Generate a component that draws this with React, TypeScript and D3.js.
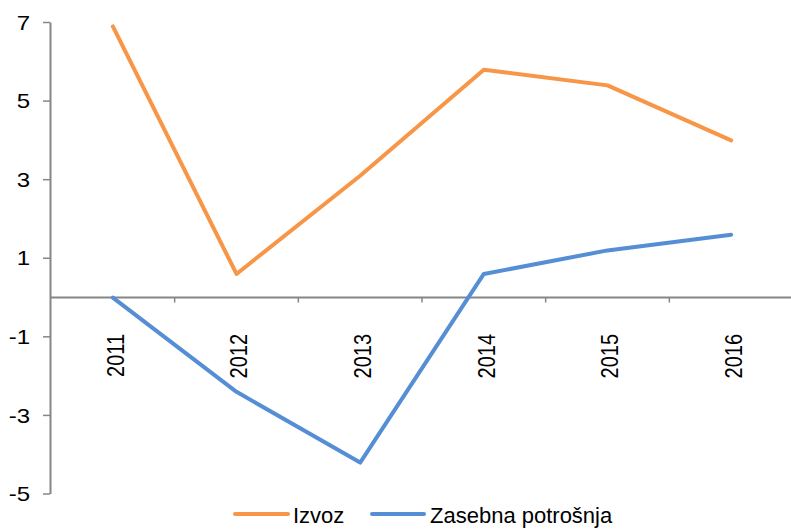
import React from "react";
import * as d3 from "d3";

const categories = ["2011", "2012", "2013", "2014", "2015", "2016"];
const izvoz = [6.9, 0.6, 3.1, 5.8, 5.4, 4.0];
const zasebna = [0.0, -2.4, -4.2, 0.6, 1.2, 1.6];
const yTicks = [7, 5, 3, 1, -1, -3, -5];
const seriesNames = ["Izvoz", "Zasebna potrošnja"];
const colors = ["#F79646", "#558ED5"];

const W = 791;
const H = 529;

export default function App() {
  const x = d3.scaleBand<string>().domain(categories).range([51, 793]).padding(0);
  const y = d3.scaleLinear().domain([-5, 7]).range([494, 22.5]);
  const cx = (c: string) => (x(c) as number) + x.bandwidth() / 2;
  const line = d3
    .line<number>()
    .x((_, i) => cx(categories[i]))
    .y((d) => y(d));
  const axisColor = "#868686";
  const font = "'Liberation Sans', Arial, sans-serif";
  const series = [izvoz, zasebna];

  return (
    <svg
      width={W}
      height={H}
      style={{ position: "absolute", left: 0, top: 0 }}
      fontFamily={font}
    >
      <rect width={W} height={H} fill="#fff" />
      {/* y axis */}
      <line x1={50.5} x2={50.5} y1={y(7)} y2={y(-5)} stroke={axisColor} strokeWidth={2} />
      {yTicks.map((t) => (
        <g key={t}>
          <line x1={43} x2={50} y1={y(t)} y2={y(t)} stroke={axisColor} strokeWidth={1.5} />
          <text
            transform={`translate(30,${y(t)}) scale(1.2,1)`}
            dy="0.36em"
            textAnchor="end"
            fontSize={20}
            fill="#000"
          >
            {t}
          </text>
        </g>
      ))}
      {/* x axis at zero */}
      <line x1={50} x2={791} y1={y(0)} y2={y(0)} stroke={axisColor} strokeWidth={2} />
      {categories.map((c, i) =>
        i > 0 ? (
          <line
            key={"t" + c}
            x1={x(c) as number}
            x2={x(c) as number}
            y1={y(0)}
            y2={y(0) + 5}
            stroke={axisColor}
            strokeWidth={1.5}
          />
        ) : null
      )}
      {categories.map((c) => (
        <text
          key={c}
          transform={`translate(${cx(c) + 2},334) rotate(-90) scale(1,1.22)`}
          textAnchor="end"
          dy="0.36em"
          fontSize={20}
          fill="#000"
        >
          {c}
        </text>
      ))}
      {series.map((s, i) => (
        <path
          key={i}
          d={line(s) || ""}
          fill="none"
          stroke={colors[i]}
          strokeWidth={4}
          strokeLinejoin="round"
          strokeLinecap="round"
        />
      ))}
      {/* legend */}
      <g>
        <line x1={235} x2={288} y1={514} y2={514} stroke={colors[0]} strokeWidth={4} strokeLinecap="round" />
        <text x={293} y={523} fontSize={22} fill="#000">
          {seriesNames[0]}
        </text>
        <line x1={372} x2={424} y1={514} y2={514} stroke={colors[1]} strokeWidth={4} strokeLinecap="round" />
        <text x={430} y={523} fontSize={22} fill="#000">
          {seriesNames[1]}
        </text>
      </g>
    </svg>
  );
}
